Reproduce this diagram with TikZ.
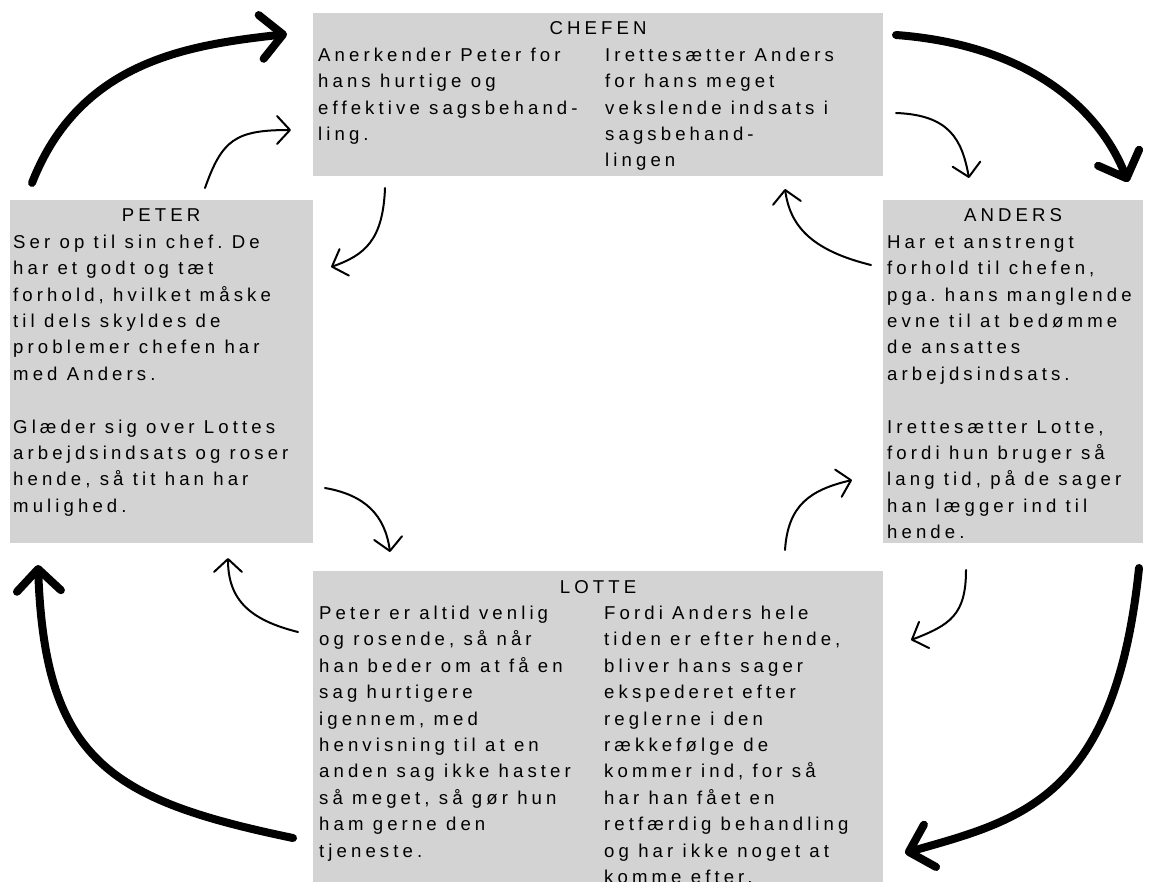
\documentclass[tikz,border=0pt]{standalone}
\usepackage{fontspec}
\usepackage{xcolor}
\newfontfamily\diafont[LetterSpace=22]{Liberation Sans}
\usetikzlibrary{arrows.meta}
\definecolor{boxgray}{RGB}{211,211,211}

\begin{document}
\begin{tikzpicture}[x=1pt, y=-1pt,
		box/.style={fill=boxgray, draw=none, inner sep=0pt, anchor=north west},
		title/.style={inner sep=0pt, anchor=base, font=\diafont\fontsize{18.6}{26.4}\selectfont},
		txt/.style={inner sep=0pt, anchor=base west, align=left, text width=#1, font=\diafont\fontsize{18.6}{26.4}\selectfont, execute at begin node={\spaceskip=0.5em\relax}},
		bigarrow/.style={line width=8pt, line cap=round, -{Straight Barb[length=22pt, width=44pt, round]}},
		smallarrow/.style={line width=2pt, line cap=round, -{Straight Barb[length=13pt, width=28pt, round]}}]
		\useasboundingbox (0,0) rectangle (1153,882);
		\clip (0,0) rectangle (1153,882);

		% Boxes
		\node[box, minimum width=570, minimum height=163] (chefen) at (313,13) {};
		\node[box, minimum width=303, minimum height=343] (peter) at (10,200) {};
		\node[box, minimum width=260, minimum height=343] (anders) at (883,200) {};
		\node[box, minimum width=570, minimum height=330] (lotte) at (313,571) {};

		% Titles
		\node[title] (chefen-t) at (598,35) {CHEFEN};
		\node[title] (peter-t) at (161,222) {PETER};
		\node[title] (anders-t) at (1013,222) {ANDERS};
		\node[title] (lotte-t) at (598,593) {LOTTE};

		% Texts
		\node[txt=290] (chefen-l) at (318,61.4) {Anerkender Peter for\\hans hurtige og\\effektive sagsbehand-\\ling.};
		\node[txt=290] (chefen-r) at (605,61.4) {Irettesætter Anders\\for hans meget\\vekslende indsats i\\sagsbehand-\\lingen};
		\node[txt=330] (peter-x) at (13,248.4) {Ser op til sin chef. De\\har et godt og tæt\\forhold, hvilket måske\\til dels skyldes de\\problemer chefen har\\med Anders.\\[26.4pt]Glæder sig over Lottes\\arbejdsindsats og roser\\hende, så tit han har\\mulighed.};
		\node[txt=330] (anders-x) at (887,248.4) {Har et anstrengt\\forhold til chefen,\\pga. hans manglende\\evne til at bedømme\\de ansattes\\arbejdsindsats.\\[26.4pt]Irettesætter Lotte,\\fordi hun bruger så\\lang tid, på de sager\\han lægger ind til\\hende.};
		\node[txt=330] (lotte-l) at (319,619.4) {Peter er altid venlig\\og rosende, så når\\han beder om at få en\\sag hurtigere\\igennem, med\\henvisning til at en\\anden sag ikke haster\\så meget, så gør hun\\ham gerne den\\tjeneste.};
		\node[txt=330] (lotte-r) at (604,619.4) {Fordi Anders hele\\tiden er efter hende,\\bliver hans sager\\ekspederet efter\\reglerne i den\\rækkefølge de\\kommer ind, for så\\har han fået en\\retfærdig behandling\\og har ikke noget at\\komme efter.};

		% Arrow ends
		\coordinate (tl-a) at (32,183);
		\coordinate (tl-b) at (287,34);
		\coordinate (tr-a) at (896,35);
		\coordinate (tr-b) at (1128,182);
		\coordinate (br-a) at (1139,568);
		\coordinate (br-b) at (905,853);
		\coordinate (bl-a) at (293,838);
		\coordinate (bl-b) at (38,565);

		\coordinate (pc-a) at (205,188);
		\coordinate (pc-b) at (291,130);
		\coordinate (cp-a) at (385,188);
		\coordinate (cp-b) at (331,267);
		\coordinate (ca-a) at (896,113);
		\coordinate (ca-b) at (969,178);
		\coordinate (ac-a) at (871,265);
		\coordinate (ac-b) at (785,189);
		\coordinate (pl-a) at (325,488);
		\coordinate (pl-b) at (390,552);
		\coordinate (lp-a) at (298,632);
		\coordinate (lp-b) at (228,558);
		\coordinate (la-a) at (785,550);
		\coordinate (la-b) at (852,480);
		\coordinate (al-a) at (966,570);
		\coordinate (al-b) at (911,640);

		% Big arrows
		\draw[bigarrow] (tl-a) .. controls (80,60) and (190,45) .. (tl-b);
		\draw[bigarrow] (tr-a) .. controls (1030,45) and (1100,110) .. (tr-b);
		\draw[bigarrow] (br-a) .. controls (1115,800) and (1020,820) .. (br-b);
		\draw[bigarrow] (bl-a) .. controls (110,800) and (45,760) .. (bl-b);

		% Small arrows
		\draw[smallarrow] (pc-a) .. controls (222,140) and (235,130) .. (pc-b);
		\draw[smallarrow] (cp-a) .. controls (383,240) and (365,255) .. (cp-b);
		\draw[smallarrow] (ca-a) .. controls (950,115) and (962,140) .. (ca-b);
		\draw[smallarrow] (ac-a) .. controls (810,250) and (790,225) .. (ac-b);
		\draw[smallarrow] (pl-a) .. controls (365,495) and (385,515) .. (pl-b);
		\draw[smallarrow] (lp-a) .. controls (250,620) and (228,600) .. (lp-b);
		\draw[smallarrow] (la-a) .. controls (788,505) and (810,490) .. (la-b);
		\draw[smallarrow] (al-a) .. controls (966,615) and (950,625) .. (al-b);
	\end{tikzpicture}
\end{document}
